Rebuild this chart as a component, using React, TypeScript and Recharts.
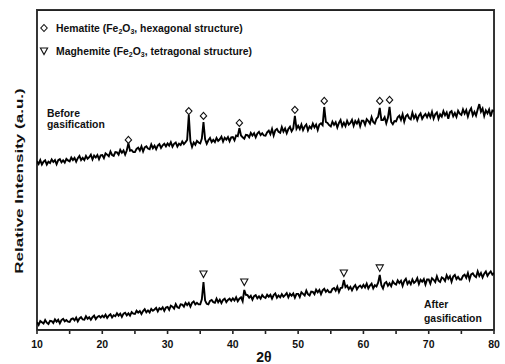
import { ComposedChart, Line, Scatter, XAxis, YAxis, ReferenceLine } from "recharts"

// step-scan: 10 to 80 deg 2-theta, 0.25 deg per step
const scanStart = 10
const scanStep = 0.25

// relative intensity, arbitrary offset units (0-100 across the plot height)
const beforeCounts = [
  52.7, 51.9, 53.1, 51.7, 52.6, 53.0, 51.7, 52.6, 52.2, 53.3, 52.5, 53.1, 51.8, 53.1, 53.4, 52.4, 53.0, 52.3, 53.5, 53.0,
  52.7, 53.9, 53.1, 53.8, 52.6, 53.7, 54.4, 53.1, 53.8, 53.1, 54.4, 53.5, 54.0, 54.8, 53.3, 54.5, 53.9, 54.7, 53.4, 54.6,
  54.7, 53.7, 55.2, 54.8, 54.3, 55.8, 54.7, 54.4, 55.6, 55.5, 54.8, 56.3, 55.4, 56.1, 54.8, 56.1, 58.4, 56.0, 56.2, 55.6,
  55.6, 56.6, 57.0, 56.1, 57.4, 55.8, 57.1, 57.4, 56.7, 56.5, 58.0, 56.8, 57.6, 56.5, 57.6, 58.1, 56.9, 57.7, 58.2, 57.4,
  58.3, 57.6, 58.7, 57.3, 58.2, 58.6, 57.3, 58.2, 57.8, 58.9, 58.1, 58.7, 59.4, 67.2, 59.0, 57.2, 58.6, 57.9, 59.1, 58.6,
  58.3, 59.8, 65.0, 59.6, 58.2, 59.3, 60.0, 58.7, 59.4, 58.7, 60.0, 59.1, 59.6, 60.4, 58.9, 60.1, 59.5, 60.3, 59.0, 60.2,
  60.3, 59.3, 60.8, 60.6, 63.1, 60.8, 60.2, 59.8, 61.0, 60.9, 60.2, 61.6, 60.8, 61.5, 60.2, 61.4, 61.9, 60.9, 61.5, 60.8,
  60.7, 61.8, 62.3, 61.2, 62.8, 60.8, 62.4, 62.8, 61.9, 61.6, 63.4, 62.0, 63.0, 61.5, 62.8, 63.5, 62.1, 63.0, 66.9, 62.9,
  63.8, 62.8, 64.2, 62.5, 63.6, 64.2, 62.4, 63.6, 63.0, 64.5, 63.3, 64.2, 62.5, 64.2, 64.6, 64.0, 69.7, 65.0, 64.7, 64.0,
  63.6, 65.1, 64.1, 64.9, 63.3, 64.7, 65.6, 63.7, 64.8, 63.7, 65.4, 64.2, 64.7, 65.7, 63.8, 65.3, 64.5, 65.6, 63.7, 65.4,
  65.4, 64.1, 65.9, 65.3, 64.5, 66.5, 65.0, 64.5, 66.0, 66.6, 69.4, 65.6, 65.6, 66.5, 64.6, 66.3, 69.7, 65.0, 64.3, 65.3,
  65.2, 66.5, 67.0, 65.7, 67.4, 65.1, 66.8, 67.3, 66.2, 65.8, 67.9, 66.2, 67.2, 65.6, 67.0, 67.7, 66.0, 66.9, 67.5, 66.5,
  67.7, 66.5, 68.2, 66.1, 67.4, 68.0, 66.0, 67.4, 66.7, 68.4, 67.1, 68.0, 66.0, 68.0, 68.4, 66.8, 67.8, 66.6, 68.5, 67.6,
  67.2, 68.9, 67.6, 68.7, 66.7, 68.4, 69.3, 67.1, 68.2, 67.0, 68.9, 70.6, 68.2, 69.2, 66.9, 68.6, 67.7, 68.9, 66.7, 68.6,
  68.4,
]

const afterCounts = [
  2.4, 1.6, 2.8, 2.4, 2.0, 3.1, 2.3, 1.9, 2.9, 2.8, 2.2, 3.3, 2.6, 3.2, 2.1, 3.1, 3.5, 2.7, 3.1, 2.6,
  2.5, 3.4, 3.6, 3.0, 3.9, 2.7, 3.6, 4.0, 3.3, 3.2, 4.3, 3.5, 4.0, 3.2, 4.0, 4.5, 3.4, 4.1, 4.4, 3.9,
  4.5, 4.0, 4.8, 3.8, 4.5, 4.9, 3.9, 4.6, 4.3, 5.2, 4.5, 5.1, 4.1, 5.1, 5.4, 4.6, 5.2, 4.5, 5.6, 5.1,
  5.0, 6.0, 5.4, 5.9, 5.0, 5.9, 6.5, 5.5, 6.1, 5.5, 6.6, 6.0, 6.4, 6.9, 5.8, 6.8, 6.4, 7.1, 6.0, 7.0,
  7.2, 6.3, 7.6, 7.3, 6.7, 8.1, 7.1, 6.9, 8.0, 7.9, 7.3, 8.5, 7.8, 8.5, 7.3, 8.5, 8.9, 8.0, 8.5, 8.0,
  8.0, 9.6, 15.0, 9.2, 8.2, 8.0, 9.1, 9.4, 8.7, 8.5, 9.8, 8.7, 9.5, 8.4, 9.4, 9.8, 8.7, 9.4, 9.8, 9.1,
  9.9, 9.2, 10.2, 9.0, 9.8, 10.2, 9.0, 12.5, 11.0, 10.9, 10.1, 10.7, 9.5, 10.6, 10.9, 9.9, 10.5, 9.8, 10.9, 10.3,
  10.0, 11.0, 10.4, 11.0, 9.8, 10.9, 11.4, 10.1, 10.8, 10.2, 11.2, 10.4, 10.9, 11.5, 10.2, 11.3, 10.7, 11.4, 10.1, 11.3,
  11.3, 10.3, 11.8, 11.3, 10.8, 12.3, 11.2, 10.8, 12.0, 11.9, 11.2, 12.6, 11.8, 12.5, 11.2, 12.4, 12.9, 11.9, 12.5, 11.8,
  11.8, 12.8, 13.1, 12.3, 13.5, 11.9, 13.1, 13.2, 15.6, 13.4, 13.9, 12.8, 13.5, 12.4, 13.4, 14.0, 12.7, 13.5, 13.9, 13.2,
  14.1, 13.3, 14.5, 13.0, 13.9, 14.5, 13.0, 14.0, 13.6, 14.8, 17.2, 14.0, 13.0, 14.6, 15.0, 13.8, 14.6, 13.7, 15.2, 14.5,
  14.2, 15.5, 14.7, 15.4, 13.8, 15.3, 16.0, 14.4, 15.2, 14.3, 15.8, 14.7, 15.2, 16.2, 14.4, 15.7, 15.1, 15.9, 14.2, 15.8,
  15.8, 14.5, 16.2, 15.7, 15.0, 16.8, 15.4, 15.0, 16.4, 16.1, 15.3, 17.1, 16.0, 16.8, 15.1, 16.7, 17.2, 15.9, 16.6, 15.8,
  15.8, 16.9, 17.3, 16.3, 17.8, 15.8, 17.4, 17.7, 16.9, 16.5, 18.3, 16.9, 17.8, 16.4, 17.6, 18.3, 16.9, 17.7, 18.3, 17.3,
  17.8,
]

// indexed reflections (2-theta) and where their symbols sit
const hematitePeaks = [24.0, 33.25, 35.5, 41.0, 49.5, 54.0, 62.5, 64.0]
const hematiteMarkY = [59.4, 68.4, 66.9, 64.7, 68.8, 71.6, 71.6, 71.9]
const maghemitePeaks = [35.5, 41.75, 57.0, 62.5]
const maghemiteMarkY = [17.5, 15.0, 17.8, 19.4]

const xTicks = [10, 15, 20, 25, 30, 35, 40, 45, 50, 55, 60, 65, 70, 75, 80]

const FONT = "'Liberation Sans', Arial, sans-serif"
const FRAME = "#222"

const scan = beforeCounts.map((before, i) => ({ x: scanStart + i * scanStep, before, after: afterCounts[i] }))
const hematiteMarks = hematitePeaks.map((x, i) => ({ x, y: hematiteMarkY[i] }))
const maghemiteMarks = maghemitePeaks.map((x, i) => ({ x, y: maghemiteMarkY[i] }))

const Diamond = ({ cx, cy }: any) => (
  <path d={`M${cx},${cy - 3.5} L${cx + 3.2},${cy} L${cx},${cy + 3.5} L${cx - 3.2},${cy} Z`} fill="#fff" stroke="#111" strokeWidth={1.1} />
)

const Triangle = ({ cx, cy }: any) => (
  <path d={`M${cx - 3.6},${cy - 3} L${cx + 3.6},${cy - 3} L${cx},${cy + 3.5} Z`} fill="#fff" stroke="#111" strokeWidth={1.1} />
)

// label only on every 10 deg; marks come from the axis tickLine
const XTick = ({ x, y, payload }: any) => {
  if (payload.value % 10 !== 0) return <g />
  return (
    <text x={x} y={y + 14} textAnchor="middle" fontSize={10.5} fontWeight="bold" fontFamily={FONT} fill="#111">
      {payload.value}
    </text>
  )
}

const Fe2O3 = () => (
  <>
    Fe<tspan fontSize={7} dy={2}>2</tspan>
    <tspan dy={-2}>O</tspan>
    <tspan fontSize={7} dy={2}>3</tspan>
    <tspan dy={-2}>,</tspan>
  </>
)

export default function App() {
  return (
    <div style={{ position: "absolute", left: 0, top: 0, width: 505, height: 364, background: "#fff" }}>
      <ComposedChart width={505} height={364} data={scan} margin={{ top: 10, right: 11, bottom: 0, left: 37 }}>
        <XAxis
          type="number"
          dataKey="x"
          domain={[10, 80]}
          ticks={xTicks}
          tick={<XTick />}
          tickLine={{ stroke: FRAME, strokeWidth: 1.6 }}
          tickSize={4}
          tickMargin={0}
          axisLine={{ stroke: FRAME, strokeWidth: 1.8 }}
          height={34}
          allowDataOverflow
        />
        <YAxis type="number" domain={[0, 100]} hide allowDataOverflow />
        <ReferenceLine x={10} stroke={FRAME} strokeWidth={1.8} />
        <ReferenceLine x={80} stroke={FRAME} strokeWidth={1.8} />
        <ReferenceLine y={100} stroke={FRAME} strokeWidth={1.8} />
        <Line dataKey="before" type="linear" stroke="#000" strokeWidth={1.9} dot={false} isAnimationActive={false} />
        <Line dataKey="after" type="linear" stroke="#000" strokeWidth={1.9} dot={false} isAnimationActive={false} />
        <Scatter data={hematiteMarks} dataKey="y" shape={<Diamond />} isAnimationActive={false} />
        <Scatter data={maghemiteMarks} dataKey="y" shape={<Triangle />} isAnimationActive={false} />
      </ComposedChart>
      {/* plot frame as an HTML box over the plot area */}
      <div
        style={{
          position: "absolute",
          left: 36,
          top: 9,
          width: 457,
          height: 320,
          border: "1.5px solid #333",
          pointerEvents: "none",
        }}
      />
      <svg width={505} height={364} style={{ position: "absolute", left: 0, top: 0, pointerEvents: "none" }}>
        <g fontFamily={FONT} fontWeight="bold" fill="#111" fontSize={10.4}>
          <Diamond cx={44} cy={28} />
          <text x={56} y={31.5}>
            Hematite (<Fe2O3 /> hexagonal structure)
          </text>
          <Triangle cx={44} cy={51} />
          <text x={56} y={54.5}>
            Maghemite (<Fe2O3 /> tetragonal structure)
          </text>
          <text x={47} y={116.5}>Before</text>
          <text x={47} y={128}>gasification</text>
          <text x={424} y={307.5}>After</text>
          <text x={424} y={321.5}>gasification</text>
          <text x={264} y={362} textAnchor="middle" fontSize={14}>2θ</text>
          <text
            transform="translate(19,181) rotate(-90) scale(1.55,1)"
            textAnchor="middle"
            dominantBaseline="central"
            fontSize={11}
          >
            Relative Intensity (a.u.)
          </text>
        </g>
      </svg>
    </div>
  )
}
